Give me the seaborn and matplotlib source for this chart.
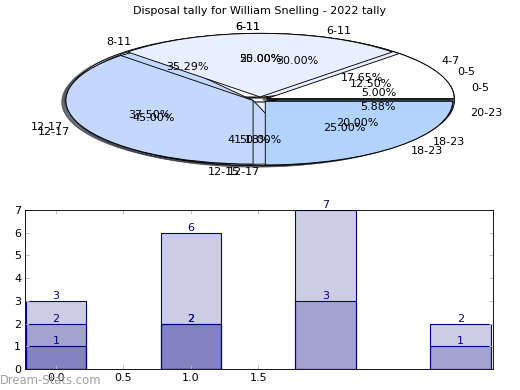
import matplotlib
matplotlib.use("Agg")
import matplotlib.pyplot as plt
import seaborn as sns

plt.rcParams['font.family'] = ['DejaVu Sans']
plt.rcParams['font.size'] = 10

title = "Disposal tally for William Snelling - 2022 tally"

# pie data, drawn bottom to top
pie_a_labels = ['4-7', '8-11', '12-15', '20-23']
pie_a_counts = [3, 6, 7, 1]
pie_d_labels = ['6-11', '12-17']
pie_d_counts = [1, 1]
pie_b_labels = ['0-5', '6-11', '12-17', '18-23']
pie_b_counts = [1, 6, 9, 4]
pie_c_labels = ['0-5', '6-11', '12-17', '18-23']
pie_c_counts = [1, 2, 3, 2]

# bar data: overlapping layers
bar_pos = [0, 1, 2, 3]
layer1 = [3, 6, 7, 2]
layer2 = [2, 2, 3, 1]
layer3_pos = [0, 1]
layer3 = [1, 2]

wedge_colors = ['#ffffff', '#e8f0ff', '#c4d8fe', '#b3d3ff']

fig = plt.figure(figsize=(6.5, 4.875), dpi=80)

ax1 = fig.add_axes([26 / 520, 1 - 179 / 390, 468 / 520, 159 / 390])
for labs, cnts in [(pie_a_labels, pie_a_counts), (pie_d_labels, pie_d_counts),
                   (pie_b_labels, pie_b_counts), (pie_c_labels, pie_c_counts)]:
    wedges, texts, autotexts = ax1.pie(
        cnts, labels=labs, autopct='%1.2f%%', shadow=True,
        explode=[0.04] * len(cnts), colors=wedge_colors[:len(cnts)],
        wedgeprops=dict(edgecolor='black', linewidth=0.8),
        textprops=dict(fontsize=10))
    # labels sitting straight below the centre go to the left, like old mpl
    for t in texts:
        x, y = t.get_position()
        if abs(x) < 1e-6:
            t.set_ha('right')
ax1.set_aspect('auto')
ax1.set_xlim(-1.25, 1.25)
ax1.set_ylim(-1.25, 1.25)
ax1.set_title(title, fontsize=10, pad=5)

ax2 = fig.add_axes([25 / 520, 21 / 390, 468 / 520, 159 / 390])
for xs, ys in [(bar_pos, layer1), (bar_pos, layer2), (layer3_pos, layer3)]:
    sns.barplot(x=xs, y=ys, native_scale=True, width=0.45, color='navy',
                errorbar=None, ax=ax2)
    for x, y in zip(xs, ys):
        ax2.text(x, y, str(y), ha='center', va='bottom', color='navy', fontsize=10)
for p in ax2.patches:
    p.set_facecolor((0, 0, 0.5, 0.2))
    p.set_edgecolor('navy')
    p.set_linewidth(1)

ax2.set_xlim(-0.23, 3.24)
ax2.set_ylim(0, 7)
ax2.set_xticks([0, 0.5, 1.0, 1.5])
ax2.set_xticklabels(['0.0', '0.5', '1.0', '1.5'])
ax2.set_yticks(range(8))
ax2.tick_params(direction='in', top=True, right=True, length=4,
                color='#bbbbbb', labelcolor='black', labelsize=10)
for s in ax2.spines.values():
    s.set_color('black')

fig.text(0.0, 1 - 380 / 390, 'Dream-Stats.com', color='#a0a0a0',
         fontsize=10.5, ha='left', va='center')

fig.savefig('out.png', dpi=80)
